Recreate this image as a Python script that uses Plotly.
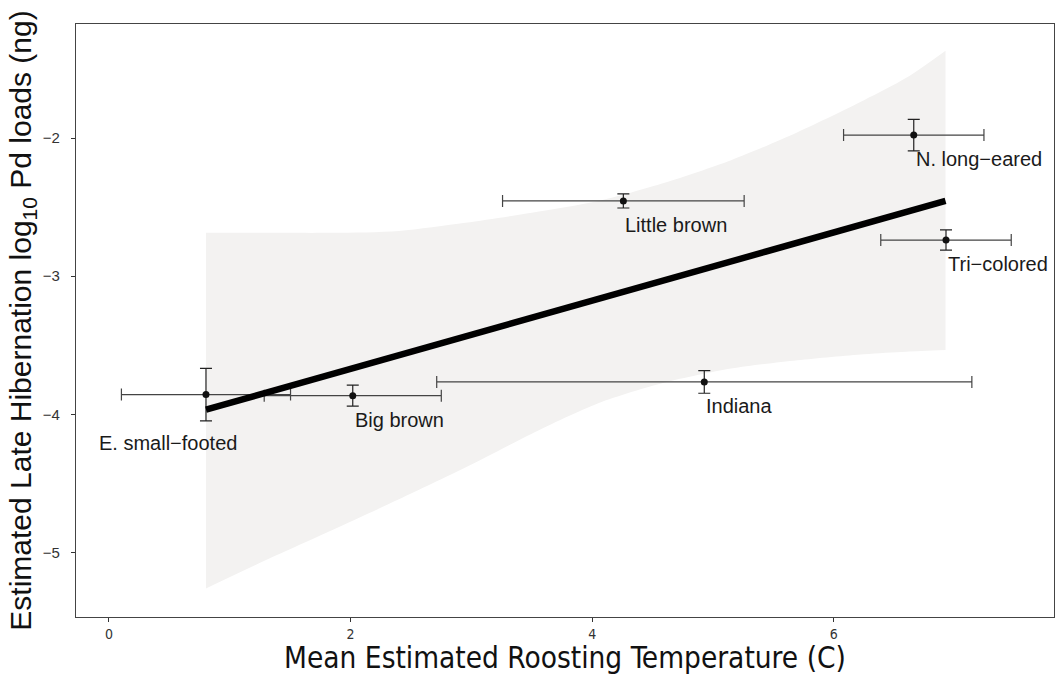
import plotly.graph_objects as go

# Species means with their uncertainty (temperature in C, load in log10 ng)
species = ["E. small−footed", "Big brown", "Little brown", "Indiana", "N. long−eared", "Tri−colored"]
temp_mean = [0.803, 2.018, 4.258, 4.928, 6.662, 6.929]
temp_err = [0.700, 0.733, 1.000, 2.215, 0.581, 0.540]
load_mean = [-3.857, -3.865, -2.455, -3.765, -1.978, -2.738]
load_err = [0.190, 0.076, 0.051, 0.082, 0.114, 0.073]

# Fitted relationship and its credible band
fit_x = [0.803, 6.925]
fit_y = [-3.966, -2.455]
band_x = [0.803, 1.30, 1.85, 2.40, 2.95, 3.50, 4.05, 4.60, 5.15, 5.70, 6.25, 6.60, 6.925]
band_upper = [-2.686, -2.686, -2.686, -2.672, -2.613, -2.540, -2.455, -2.323, -2.160, -1.957, -1.726, -1.564, -1.367]
band_lower = [-5.260, -5.055, -4.837, -4.615, -4.385, -4.140, -3.920, -3.770, -3.668, -3.608, -3.564, -3.546, -3.534]

x_ticks = [0, 2, 4, 6]
y_ticks = [-5, -4, -3, -2]

LABEL_FONT = "Liberation Sans, Arial, Helvetica, sans-serif"
NARROW_FONT = "Liberation Sans Narrow, Arial Narrow, DejaVu Sans Condensed, sans-serif"

fig = go.Figure()

# shaded band: lower edge first, then the upper edge filled down to it
fig.add_trace(go.Scatter(
    x=band_x,
    y=band_lower,
    mode="lines",
    line=dict(width=0, shape="spline", smoothing=0.8),
    hoverinfo="skip",
    showlegend=False,
))
fig.add_trace(go.Scatter(
    x=band_x,
    y=band_upper,
    mode="lines",
    fill="tonexty",
    fillcolor="#f3f2f1",
    line=dict(width=0, shape="spline", smoothing=0.8),
    hoverinfo="skip",
    showlegend=False,
))

# species points with horizontal and vertical error bars
fig.add_trace(go.Scatter(
    x=temp_mean,
    y=load_mean,
    mode="markers",
    marker=dict(color="#111111", size=7),
    error_x=dict(type="data", array=temp_err, color="#444444", thickness=1.2, width=6),
    error_y=dict(type="data", array=load_err, color="#222222", thickness=1.2, width=6),
    showlegend=False,
))

# fitted line
fig.add_trace(go.Scatter(
    x=fit_x,
    y=fit_y,
    mode="lines",
    line=dict(color="#000000", width=6.5),
    showlegend=False,
))

# species labels, set just below and to the right of each point
for name, xv, yv in zip(species, temp_mean, load_mean):
    xshift, yshift = 0, -24
    if name.startswith("E. small"):
        xshift, yshift = -109, -48
    fig.add_annotation(
        x=xv, y=yv, text=name, showarrow=False,
        xanchor="left", yanchor="middle",
        xshift=xshift, yshift=yshift,
        font=dict(family=LABEL_FONT, size=20, color="#1a1a1a"),
    )

fig.update_layout(
    width=1055,
    height=675,
    margin=dict(l=76, r=1, t=24, b=58),
    paper_bgcolor="white",
    plot_bgcolor="white",
    showlegend=False,
    xaxis=dict(
        range=[-0.273, 7.823],
        tickvals=x_ticks,
        ticks="outside",
        ticklen=4,
        tickcolor="#333333",
        tickfont=dict(family=NARROW_FONT, size=14, color="#333333"),
        showgrid=False,
        zeroline=False,
        showline=True,
        mirror=True,
        linecolor="#444444",
        linewidth=1.2,
        title=dict(
            text="Mean Estimated Roosting Temperature (C)",
            font=dict(family=NARROW_FONT, size=29.5, color="#111111"),
            standoff=6,
        ),
    ),
    yaxis=dict(
        range=[-5.467, -1.174],
        tickvals=y_ticks,
        ticks="outside",
        ticklen=4,
        tickcolor="#333333",
        tickfont=dict(family=LABEL_FONT, size=15, color="#333333"),
        ticklabelstandoff=8,
        showgrid=False,
        zeroline=False,
        showline=True,
        mirror=True,
        linecolor="#444444",
        linewidth=1.2,
        title=dict(
            text="Estimated Late Hibernation log<sub>10</sub> Pd loads (ng)",
            font=dict(family=LABEL_FONT, size=30, color="#111111"),
            standoff=2,
        ),
    ),
)

fig.write_html("out.html")
